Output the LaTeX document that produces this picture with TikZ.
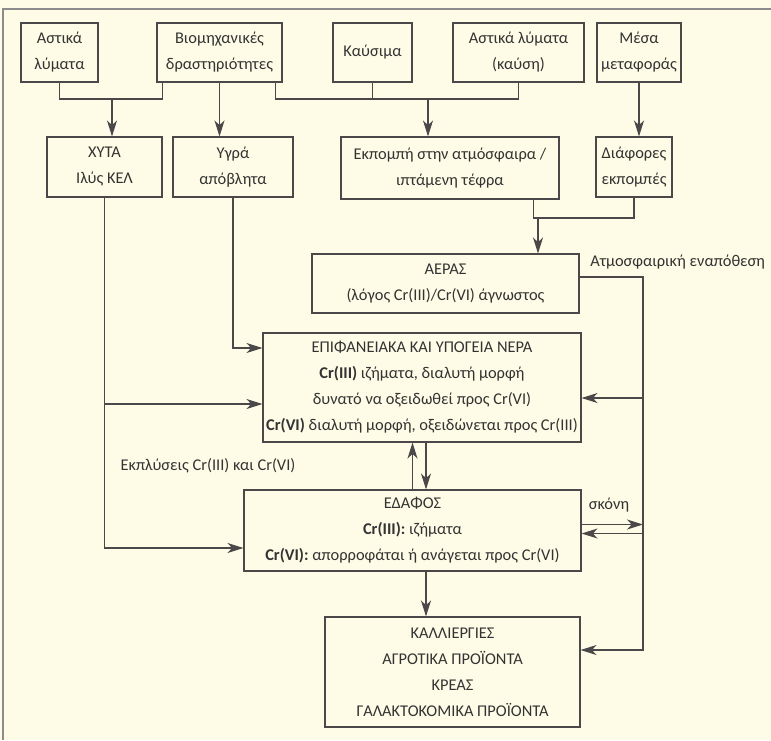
\documentclass[tikz,border=0pt]{standalone}
\usepackage{fontspec}
\setmainfont{Carlito}
\usepackage{tikz}
\usetikzlibrary{positioning,calc,arrows.meta}

\definecolor{paper}{HTML}{FEFCE6}
\definecolor{ink}{HTML}{4A4848}

\begin{document}
\begin{tikzpicture}[
      x=0.75pt, y=-0.75pt,
      box/.style 2 args={rectangle, draw=ink, line width=0.8pt, inner sep=0pt, align=center,
        minimum width=#1*0.75pt, minimum height=#2*0.75pt},
      link/.style={draw=ink, line width=0.8pt},
      arrow/.style={link, -{Stealth[length=12pt,width=7.5pt,inset=3.5pt]}},
      lbl/.style={inner sep=0pt, text=black!80},
      every node/.style={text=black!80, font=\fontsize{12.3}{19.5}\selectfont},
      ]
      \useasboundingbox[fill=paper] (0,0) rectangle (771,740);
      \draw[black!45, line width=1pt] (3,740) -- (3,9) -- (771,9);

      % sources
      \node[box={77}{59}] (AL) at (59.5,52.5) {Αστικά\\λύματα};
      \node[box={125}{59}] (BIO) at (219.5,52.5) {Βιομηχανικές\\δραστηριότητες};
      \node[box={79}{59}] (KAY) at (372.5,52.5) {Καύσιμα};
      \node[box={131}{59}] (ALK) at (518.5,52.5) {Αστικά λύματα\\(καύση)};
      \node[box={84}{59}] (MM) at (639,52.5) {Μέσα\\μεταφοράς};

      \node[box={115}{60}] (XYTA) at (104.5,167) {ΧΥΤΑ\\Ιλύς ΚΕΛ};
      \node[box={120}{60}] (YGRA) at (233,167) {Υγρά\\απόβλητα};
      \node[box={218}{62}] (EKP) at (450,168) {Εκπομπή στην ατμόσφαιρα /\\ιπτάμενη τέφρα};
      \node[box={76}{60}] (DIA) at (634,167) {Διάφορες\\εκπομπές};

      % compartments
      \node[box={267}{59}] (AER) at (445.5,283.5) {ΑΕΡΑΣ\\(λόγος Cr(III)/Cr(VI) άγνωστος};
      \node[box={318}{109}] (EPIF) at (422,387.5) {ΕΠΙΦΑΝΕΙΑΚΑ ΚΑΙ ΥΠΟΓΕΙΑ ΝΕΡΑ\\\textbf{Cr(III)} ιζήματα, διαλυτή μορφή\\δυνατό να οξειδωθεί προς Cr(VI)\\\textbf{Cr(VI)} διαλυτή μορφή, οξειδώνεται προς Cr(III)};
      \node[box={337}{81}] (EDA) at (412.5,530.5) {ΕΔΑΦΟΣ\\\textbf{Cr(III):} ιζήματα\\\textbf{Cr(VI):} απορροφάται ή ανάγεται προς Cr(VI)};
      \node[box={255}{110}] (CALL) at (452.5,672) {ΚΑΛΛΙΕΡΓΙΕΣ\\ΑΓΡΟΤΙΚΑ ΠΡΟΪΟΝΤΑ\\ΚΡΕΑΣ\\ΓΑΛΑΚΤΟΚΟΜΙΚΑ ΠΡΟΪΟΝΤΑ};

      \node[lbl, anchor=west] (dep) at (590,262) {Ατμοσφαιρική εναπόθεση};
      \node[lbl] (wash) at (208,466) {Εκπλύσεις Cr(III) και Cr(VI)};
      \node[lbl] (dust) at (609,505) {σκόνη};

      \coordinate (j1) at (112,99);
      \coordinate (j2) at (428,99);
      \coordinate (j3) at (538,218);
      \coordinate (rc) at (643,650);
      \coordinate (dn) at ($(EPIF.south)+(4,0)$);

      % top row
      \draw[link] (AL.south) |- (j1) -| ($(BIO.south west)+(6,0)$);
      \draw[arrow] (j1) -- (j1 |- XYTA.north);
      \draw[arrow] (BIO.south) -- (BIO.south |- YGRA.north);
      \draw[link] ($(BIO.south east)+(-7,0)$) |- (j2) -| (ALK.south);
      \draw[link] (KAY.south) -- (KAY.south |- j2);
      \draw[arrow] (j2) -- (j2 |- EKP.north);
      \draw[arrow] (MM.south) -- (MM.south |- DIA.north);

      % to air
      \draw[link] ($(EKP.south east)+(-26,0)$) |- (j3) -| (DIA.south);
      \draw[arrow] (j3) -- (j3 |- AER.north);

      % left side
      \draw[arrow] (XYTA.south) |- ($(EDA.west)+(0,17.5)$);
      \draw[arrow] ($(XYTA.south |- EPIF.west)+(0,16.5)$) -- ($(EPIF.west)+(0,16.5)$);
      \draw[arrow] (YGRA.south) |- ($(EPIF.west)+(0,-39.5)$);

      % right side
      \draw[arrow] ($(AER.east)+(0,-6.5)$) -| (rc) -- (rc -| CALL.east);
      \draw[arrow] ($(rc |- EPIF.east)+(0,10.5)$) -- ($(EPIF.east)+(0,10.5)$);
      \draw[arrow] ($(EDA.east)+(0,-6)$) -- ($(rc |- EDA.east)+(0,-6)$);
      \draw[arrow] ($(rc |- EDA.east)+(0,3)$) -- ($(EDA.east)+(0,3)$);

      % water / soil / crops
      \draw[arrow] (EDA.north) -- (EDA.north |- EPIF.south);
      \draw[arrow] (dn) -- (dn |- EDA.north);
      \draw[arrow] (dn |- EDA.south) -- (dn |- CALL.north);
    \end{tikzpicture}
\end{document}
